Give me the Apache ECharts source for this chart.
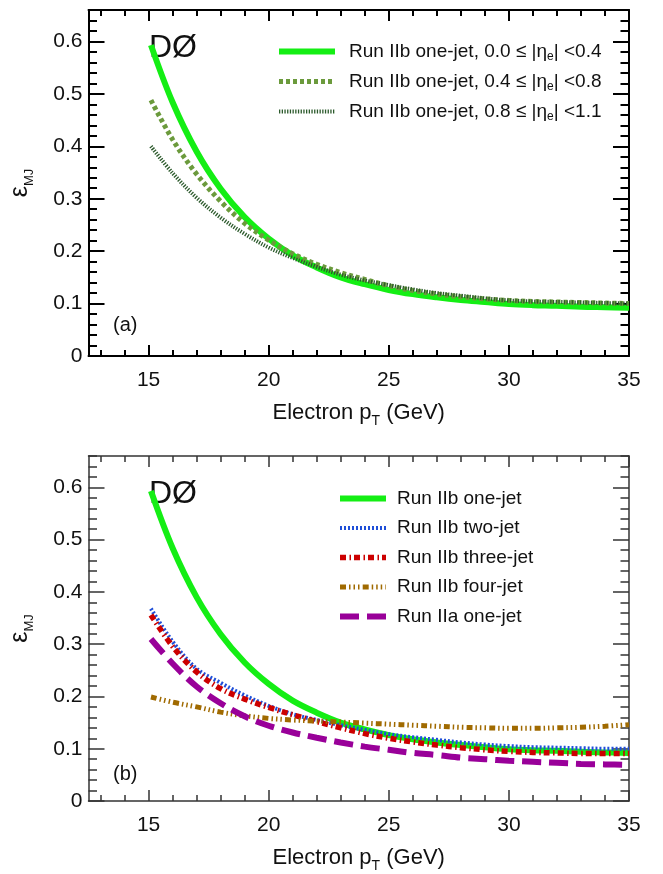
<!DOCTYPE html>
<html>
<head>
<meta charset="utf-8">
<script src="https://cdn.jsdelivr.net/npm/echarts@6/dist/echarts.min.js"></script>
<style>
  html, body { margin: 0; padding: 0; background: #ffffff; }
  #chart { width: 663px; height: 874px; }
</style>
</head>
<body>
<div id="chart"></div>
<script>
// Electron pT sampling points (GeV)
const pt = [15.1, 16, 17, 18, 19, 20, 21, 22, 23, 24, 25, 26, 27, 28, 29, 30, 31, 32, 33, 34, 35];

// Panel (a): Run IIb one-jet, split by electron |eta|
const eta00to04 = [0.593, 0.484, 0.390, 0.319, 0.265, 0.224, 0.192, 0.169, 0.150, 0.137, 0.126, 0.118, 0.112, 0.107, 0.103, 0.099, 0.097, 0.096, 0.094, 0.093, 0.092];
const eta04to08 = [0.488, 0.413, 0.347, 0.295, 0.253, 0.221, 0.195, 0.175, 0.159, 0.146, 0.134, 0.125, 0.118, 0.113, 0.109, 0.106, 0.104, 0.103, 0.102, 0.101, 0.100];
const eta08to11 = [0.400, 0.349, 0.302, 0.264, 0.233, 0.207, 0.187, 0.170, 0.155, 0.144, 0.135, 0.127, 0.120, 0.115, 0.110, 0.106, 0.104, 0.103, 0.102, 0.101, 0.100];

// Panel (b): jet multiplicity bins and Run IIa
const iibOneJet   = [0.593, 0.484, 0.390, 0.319, 0.265, 0.224, 0.192, 0.169, 0.150, 0.137, 0.126, 0.118, 0.112, 0.107, 0.103, 0.099, 0.097, 0.096, 0.094, 0.093, 0.092];
const iibTwoJet   = [0.368, 0.305, 0.253, 0.226, 0.202, 0.182, 0.166, 0.155, 0.145, 0.136, 0.128, 0.122, 0.117, 0.112, 0.108, 0.105, 0.103, 0.102, 0.101, 0.100, 0.100];
const iibThreeJet = [0.356, 0.296, 0.247, 0.215, 0.195, 0.179, 0.165, 0.152, 0.140, 0.129, 0.120, 0.113, 0.107, 0.102, 0.098, 0.095, 0.093, 0.092, 0.091, 0.091, 0.091];
const iibFourJet  = [0.199, 0.189, 0.180, 0.170, 0.163, 0.158, 0.155, 0.153, 0.151, 0.149, 0.147, 0.145, 0.143, 0.141, 0.140, 0.139, 0.139, 0.140, 0.141, 0.143, 0.146];
const iiaOneJet   = [0.310, 0.263, 0.219, 0.187, 0.162, 0.144, 0.131, 0.121, 0.112, 0.104, 0.098, 0.092, 0.088, 0.083, 0.080, 0.077, 0.075, 0.073, 0.071, 0.070, 0.069];

// Tick labels
const xMajor = [15, 20, 25, 30, 35];
const yMajor = [0, 0.1, 0.2, 0.3, 0.4, 0.5, 0.6];

const namesA = [
  'Run IIb one-jet, 0.0 ≤ |η_e| <0.4',
  'Run IIb one-jet, 0.4 ≤ |η_e| <0.8',
  'Run IIb one-jet, 0.8 ≤ |η_e| <1.1'
];
const namesB = ['Run IIb one-jet', 'Run IIb two-jet', 'Run IIb three-jet', 'Run IIb four-jet', 'Run IIa one-jet'];

const FONT = '"Liberation Sans", Arial, Helvetica, sans-serif';
const INK = '#111111';

const xMinor = [];
for (let v = 13; v <= 34; v++) if (v % 5 !== 0) xMinor.push(v);
const yMinor = [];
for (let i = 2; i <= 66; i += 2) if (i % 10 !== 0) yMinor.push(i / 100);

function pairs(arr) { return pt.map((x, i) => [x, arr[i]]); }

function panelAxes(g, frame) {
  const line = { show: true, onZero: false, lineStyle: { color: frame.color, width: frame.width } };
  const noLine = { show: false, onZero: false };
  const tick = (vals, len) => ({ show: true, inside: true, length: len, customValues: vals,
    lineStyle: { color: frame.color, width: frame.width } });
  const base = { gridIndex: g, type: 'value', splitLine: { show: false } };
  const xBase = Object.assign({}, base, { min: 12.5, max: 35 });
  const yBase = Object.assign({}, base, { min: 0, max: 0.66 });
  const xs = [
    Object.assign({}, xBase, {
      position: 'bottom', axisLine: line, axisTick: tick(xMajor, 11),
      axisLabel: { show: true, customValues: xMajor, fontSize: 21, color: INK, fontFamily: FONT, margin: 14 },
      name: '{n|Electron p}{s|T}{n| (GeV)}', nameLocation: 'middle', nameGap: 42,
      nameTextStyle: { fontFamily: FONT, color: INK, rich: {
        n: { fontSize: 22, fontFamily: FONT, color: INK, lineHeight: 30 },
        s: { fontSize: 14, fontFamily: FONT, color: INK, lineHeight: 30, verticalAlign: 'bottom' }
      } }
    }),
    Object.assign({}, xBase, { position: 'bottom', axisLine: noLine, axisTick: tick(xMinor, 6), axisLabel: { show: false } }),
    Object.assign({}, xBase, { position: 'top', axisLine: line, axisTick: tick(xMajor, 11), axisLabel: { show: false } }),
    Object.assign({}, xBase, { position: 'top', axisLine: noLine, axisTick: tick(xMinor, 6), axisLabel: { show: false } })
  ];
  const ys = [
    Object.assign({}, yBase, {
      position: 'left', axisLine: line, axisTick: tick(yMajor, 16),
      axisLabel: { show: true, customValues: yMajor, fontSize: 21, color: INK, fontFamily: FONT, margin: 6,
        formatter: v => (v === 0 ? '0' : v.toFixed(1)) },
      name: '{e|ε}{s|MJ}', nameLocation: 'middle', nameGap: 53, nameRotate: 90,
      nameTextStyle: { fontFamily: FONT, color: INK, rich: {
        e: { fontSize: 25, fontFamily: FONT, color: INK, lineHeight: 30 },
        s: { fontSize: 13, fontFamily: FONT, color: INK, lineHeight: 30, verticalAlign: 'bottom' }
      } }
    }),
    Object.assign({}, yBase, { position: 'left', axisLine: noLine, axisTick: tick(yMinor, 8.5), axisLabel: { show: false } }),
    Object.assign({}, yBase, { position: 'right', axisLine: line, axisTick: tick(yMajor, 16), axisLabel: { show: false } }),
    Object.assign({}, yBase, { position: 'right', axisLine: noLine, axisTick: tick(yMinor, 8.5), axisLabel: { show: false } })
  ];
  return { xs, ys };
}

const axA = panelAxes(0, { color: '#000000', width: 2 });
const axB = panelAxes(1, { color: '#333333', width: 1.5 });

// Line styles per curve: colour, width, dash pattern
const styles = {};
styles[namesA[0]] = { color: '#14ee14', width: 6, dash: 'solid' };
styles[namesA[1]] = { color: '#6b9a3c', width: 5, dash: [4, 3] };
styles[namesA[2]] = { color: '#2c5a2c', width: 4, dash: [1.3, 1.4] };
styles[namesB[0]] = { color: '#14ee14', width: 6, dash: 'solid' };
styles[namesB[1]] = { color: '#1f4fd8', width: 4, dash: [2, 2] };
styles[namesB[2]] = { color: '#cc0000', width: 5.5, dash: [6, 3.5, 1.5, 3] };
styles[namesB[3]] = { color: '#a06a00', width: 5, dash: [6, 3, 1.5, 3, 1.5, 3, 1.5, 3.2] };
styles[namesB[4]] = { color: '#990099', width: 6, dash: [19, 8] };

function curve(name, g, arr, z) {
  const s = styles[name];
  return {
    name, type: 'line', xAxisIndex: g * 4, yAxisIndex: g * 4,
    data: pairs(arr), smooth: 0.35, symbol: 'none', showSymbol: false, silent: true, z: z,
    itemStyle: { color: s.color },
    lineStyle: { color: s.color, width: s.width, type: s.dash, cap: 'butt' },
    animation: false
  };
}

const legendRich = {
  t: { fontSize: 19, fontFamily: FONT, color: INK, lineHeight: 22 },
  s: { fontSize: 12, fontFamily: FONT, color: INK, lineHeight: 22, verticalAlign: 'bottom' }
};
function legendText(name) {
  const k = name.indexOf('η_e');
  if (k < 0) return '{t|' + name + '}';
  return '{t|' + name.slice(0, k) + 'η}{s|e}{t|' + name.slice(k + 3) + '}';
}
// legend keys show only the line sample, no marker
const hiddenMarker = { color: 'rgba(0,0,0,0)', borderColor: 'rgba(0,0,0,0)', borderWidth: 0, opacity: 0 };
function legendItems(names) {
  return names.map(n => ({
    name: n,
    itemStyle: hiddenMarker,
    lineStyle: { color: styles[n].color, width: styles[n].width, type: styles[n].dash, cap: 'butt', opacity: 1 }
  }));
}

const option = {
  backgroundColor: '#ffffff',
  animation: false,
  grid: [
    { left: 87, right: 34, top: 10, height: 346 },
    { left: 86, right: 34, top: 456, height: 347 }
  ],
  xAxis: axA.xs.concat(axB.xs),
  yAxis: axA.ys.concat(axB.ys),
  legend: [
    { data: legendItems(namesA), orient: 'vertical', left: 276, top: 42, padding: 0, itemWidth: 56, itemHeight: 20, itemGap: 9.5,
      selectedMode: false, formatter: legendText, itemStyle: hiddenMarker,
      textStyle: { fontSize: 19, fontFamily: FONT, color: INK, padding: [0, 0, 0, 9], rich: legendRich } },
    { data: legendItems(namesB), orient: 'vertical', left: 337, top: 489, padding: 0, itemWidth: 46, itemHeight: 20, itemGap: 10.5,
      selectedMode: false, formatter: legendText, itemStyle: hiddenMarker,
      textStyle: { fontSize: 19, fontFamily: FONT, color: INK, padding: [0, 0, 0, 6], rich: legendRich } }
  ],
  graphic: [
    { type: 'text', left: 149, top: 32, style: { text: 'DØ', font: '32px ' + FONT, fill: INK } },
    { type: 'text', left: 149, top: 478, style: { text: 'DØ', font: '32px ' + FONT, fill: INK } },
    { type: 'text', left: 113, top: 315, style: { text: '(a)', font: '20px ' + FONT, fill: INK } },
    { type: 'text', left: 113, top: 764, style: { text: '(b)', font: '20px ' + FONT, fill: INK } }
  ],
  series: [
    curve(namesA[0], 0, eta00to04, 2),
    curve(namesA[1], 0, eta04to08, 3),
    curve(namesA[2], 0, eta08to11, 4),
    curve(namesB[0], 1, iibOneJet, 2),
    curve(namesB[1], 1, iibTwoJet, 3),
    curve(namesB[2], 1, iibThreeJet, 4),
    curve(namesB[3], 1, iibFourJet, 4),
    curve(namesB[4], 1, iiaOneJet, 5)
  ]
};

const chart = echarts.init(document.getElementById('chart'), null, { renderer: 'canvas' });
chart.setOption(option);
</script>
</body>
</html>
